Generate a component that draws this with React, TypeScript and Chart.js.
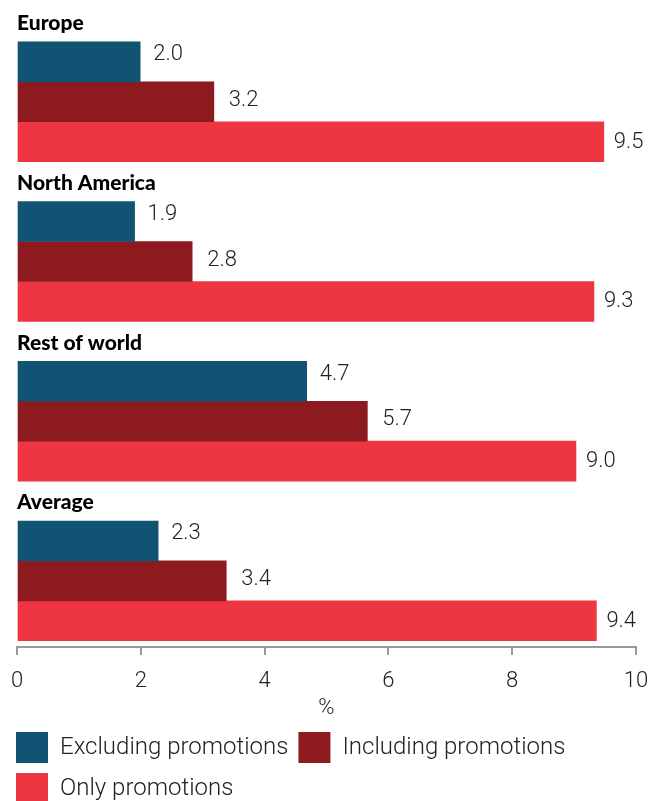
import React, { useEffect, useRef } from "react";
import { Chart, registerables } from "chart.js";

Chart.register(...registerables);

const categories = ["Europe", "North America", "Rest of world", "Average"];
const seriesNames = ["Excluding promotions", "Including promotions", "Only promotions"];
const excludingPromotions = [1.99, 1.9, 4.68, 2.28];
const includingPromotions = [3.18, 2.83, 5.66, 3.38];
const onlyPromotions = [9.48, 9.32, 9.03, 9.36];
const xTickValues = [0, 2, 4, 6, 8, 10];
const axisTitle = "%";

const seriesColors = ["#115373", "#8C1A1F", "#EE3640"];
const labelDx = [13, 15, 10];
const labelDy = [-7, -1.5, 0.5];

const lightFont = "Roboto";
const titleFont = 'Lato, "Liberation Sans", sans-serif';

const valueLabels = {
  id: "valueLabels",
  afterDatasetsDraw(chart: any) {
    const ctx = chart.ctx;
    ctx.save();
    ctx.font = `300 22px ${lightFont}`;
    ctx.fillStyle = "#222";
    ctx.textAlign = "left";
    ctx.textBaseline = "middle";
    chart.data.datasets.forEach((ds: any, di: number) => {
      if (ds.spacer) return;
      const meta = chart.getDatasetMeta(di);
      const s = di - 1;
      meta.data.forEach((el: any, i: number) => {
        const v = ds.data[i].x;
        ctx.fillText(v.toFixed(1), el.x + labelDx[s], el.y + labelDy[s]);
      });
    });
    ctx.restore();
  },
};

export default function App() {
  const ref = useRef<HTMLCanvasElement>(null);

  useEffect(() => {
    document.body.style.margin = "0";
    const series = [excludingPromotions, includingPromotions, onlyPromotions];
    const datasets: any[] = [
      {
        label: "",
        spacer: true,
        data: categories.map((_, i) => ({ x: 0, y: i })),
        backgroundColor: "rgba(0,0,0,0)",
      },
      ...series.map((vals, s) => ({
        label: seriesNames[s],
        data: vals.map((v, i) => ({ x: v, y: i })),
        backgroundColor: seriesColors[s],
        borderWidth: 0,
      })),
    ];

    const chart = new Chart(ref.current as HTMLCanvasElement, {
      type: "bar",
      data: { datasets },
      plugins: [valueLabels],
      options: {
        indexAxis: "y",
        animation: false,
        responsive: true,
        maintainAspectRatio: false,
        layout: { padding: { top: 2, left: 6, right: 12, bottom: -13 } },
        datasets: { bar: { categoryPercentage: 1, barPercentage: 1 } },
        scales: {
          x: {
            type: "linear",
            position: "bottom",
            min: 0,
            max: 10,
            offset: false,
            afterBuildTicks: (s: any) => {
              s.ticks = xTickValues.map((v) => ({ value: v }));
            },
            afterFit: (s: any) => {
              s.paddingLeft = 0;
              s.paddingRight = 0;
            },
            ticks: {
              autoSkip: false,
              maxRotation: 0,
              padding: 15,
              color: "#222",
              font: { family: lightFont, size: 22, weight: "300", lineHeight: 1 },
            },
            grid: {
              offset: false,
              drawOnChartArea: false,
              drawTicks: true,
              tickLength: 8,
              color: "#9a9a9a",
              lineWidth: 2,
            },
            border: { display: true, color: "#9a9a9a", width: 2 },
            title: {
              display: true,
              text: axisTitle,
              color: "#222",
              font: { family: lightFont, size: 22, weight: "300", lineHeight: 1 },
              padding: { top: -10, bottom: 3 },
            },
          },
          y: {
            type: "linear",
            reverse: true,
            offset: false,
            min: -0.5,
            max: 3.539,
            afterBuildTicks: (s: any) => {
              s.ticks = categories.map((_, i) => ({ value: i - 0.365 }));
            },
            afterFit: (s: any) => {
              s.width = 11;
              s.paddingTop = 0;
              s.paddingBottom = 0;
            },
            ticks: {
              mirror: true,
              padding: 0,
              autoSkip: false,
              color: "#000",
              font: { family: titleFont, size: 21, weight: "900" },
              callback: (_v: any, i: number) => categories[i],
            },
            grid: { display: false, offset: false },
            border: { display: false },
          },
        },
        plugins: {
          tooltip: { enabled: false },
          legend: {
            position: "bottom",
            align: "start",
            labels: {
              boxWidth: 32,
              boxHeight: 31,
              padding: 10,
              color: "#222",
              font: { family: lightFont, size: 24, weight: "300" },
              filter: (item: any) => item.text !== "",
            },
          },
        },
      } as any,
    });
    return () => chart.destroy();
  }, []);

  return (
    <div style={{ position: "relative", width: 648, height: 801 }}>
      <canvas ref={ref} />
    </div>
  );
}
